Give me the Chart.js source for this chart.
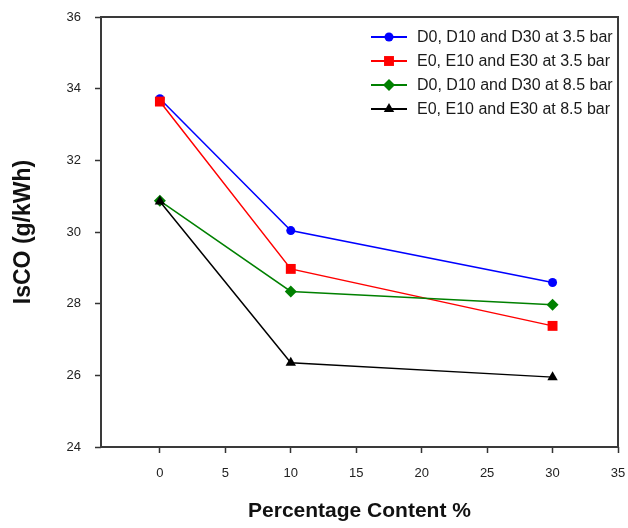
<!DOCTYPE html>
<html lang="en">

<head>
  <meta charset="UTF-8">
  <title>IsCO</title>
  <script src="https://cdn.jsdelivr.net/npm/chart.js"></script>
  <style>
    body {
      margin: 0;
      background: #fff;
    }

    .wrap {
      position: relative;
      width: 628px;
      height: 528px;
    }
  </style>
</head>

<body>
  <div class="wrap"><canvas id="g"></canvas></div>

  <script>
    // blend content (%) and IsCO values for each series
    const pct = [0, 10, 30];
    const d35 = [33.72, 30.04, 28.59];
    const e35 = [33.64, 28.97, 27.38];
    const d85 = [30.87, 28.34, 27.97];
    const e85 = [30.85, 26.35, 25.95];
    const names = [
      'D0, D10 and D30 at 3.5 bar',
      'E0, E10 and E30 at 3.5 bar',
      'D0, D10 and D30 at 8.5 bar',
      'E0, E10 and E30 at 8.5 bar'
    ];
    const xTicks = [0, 5, 10, 15, 20, 25, 30, 35];

    function s(l, v, c, shape, r, o) {
      return {
        label: l,
        data: pct.map((x, i) => ({ x: x, y: v[i] })),
        borderColor: c,
        backgroundColor: c,
        borderWidth: 1.5,
        pointStyle: shape,
        pointRadius: r,
        pointBorderWidth: 0,
        order: o
      };
    }

    // frame round the plot area
    const frame = {
      id: 'frame',
      afterDatasetsDraw(ch) {
        const a = ch.chartArea;
        const x = ch.ctx;
        x.save();
        x.strokeStyle = '#3a3a3a';
        x.lineWidth = 2;
        x.strokeRect(a.left, a.top, a.right - a.left, a.bottom - a.top);
        x.restore();
      }
    };

    // legend drawn inside the plot, top right
    const key = {
      id: 'key',
      afterDraw(ch) {
        const x = ch.ctx;
        x.save();
        x.font = '16px "Liberation Sans", Arial, sans-serif';
        x.textBaseline = 'middle';
        ch.data.datasets.forEach((d, i) => {
          const y = 37 + i * 24;
          x.strokeStyle = d.borderColor;
          x.lineWidth = 2;
          x.beginPath();
          x.moveTo(371, y);
          x.lineTo(407, y);
          x.stroke();
          x.fillStyle = d.backgroundColor;
          Chart.helpers.drawPoint(x, { pointStyle: d.pointStyle, radius: d.pointRadius, borderWidth: 0 }, 389, y);
          x.fillStyle = '#1a1a1a';
          x.fillText(d.label, 417, y + 1);
        });
        x.restore();
      }
    };

    const tickFont = { family: '"Liberation Sans", Arial, sans-serif', size: 13 };
    const xTitleFont = { family: '"Liberation Sans", Arial, sans-serif', size: 21, weight: 'bold' };
    const yTitleFont = { family: '"Liberation Sans", Arial, sans-serif', size: 23, weight: 'bold' };

    new Chart(document.getElementById('g'), {
      type: 'scatter',
      data: {
        datasets: [
          s(names[0], d35, '#0000ff', 'circle', 4.5, 4),
          s(names[1], e35, '#ff0000', 'rect', 7, 3),
          s(names[2], d85, '#008000', 'rectRot', 6, 2),
          s(names[3], e85, '#000000', 'triangle', 6, 1)
        ]
      },
      options: {
        responsive: true,
        maintainAspectRatio: false,
        animation: false,
        showLine: true,
        layout: { padding: { top: 17, right: 10, left: 0, bottom: 0 } },
        plugins: {
          legend: { display: false },
          tooltip: { enabled: false }
        },
        scales: {
          x: {
            type: 'linear',
            min: -4.5,
            max: 35,
            afterFit: sc => { sc.height = 81; sc.paddingLeft = 0; sc.paddingRight = 0; },
            afterBuildTicks: sc => { sc.ticks = xTicks.map(v => ({ value: v })); },
            ticks: { font: tickFont, color: '#222', padding: 13 },
            grid: { drawOnChartArea: false, tickLength: 6, tickWidth: 1.5, color: '#333' },
            border: { display: false },
            title: { display: true, text: 'Percentage Content %', font: xTitleFont, color: '#111', padding: { top: 0, bottom: 4 } }
          },
          y: {
            min: 24,
            max: 36,
            afterFit: sc => { sc.width = 101; sc.paddingTop = 0; sc.paddingBottom = 0; },
            ticks: { stepSize: 2, font: tickFont, color: '#222', padding: 14 },
            grid: { drawOnChartArea: false, tickLength: 6, tickWidth: 1.5, color: '#333' },
            border: { display: false },
            title: { display: true, text: 'IsCO (g/kWh)', font: yTitleFont, color: '#111', padding: { top: 10, bottom: 0 } }
          }
        }
      },
      plugins: [frame, key]
    });
  </script>
</body>

</html>
